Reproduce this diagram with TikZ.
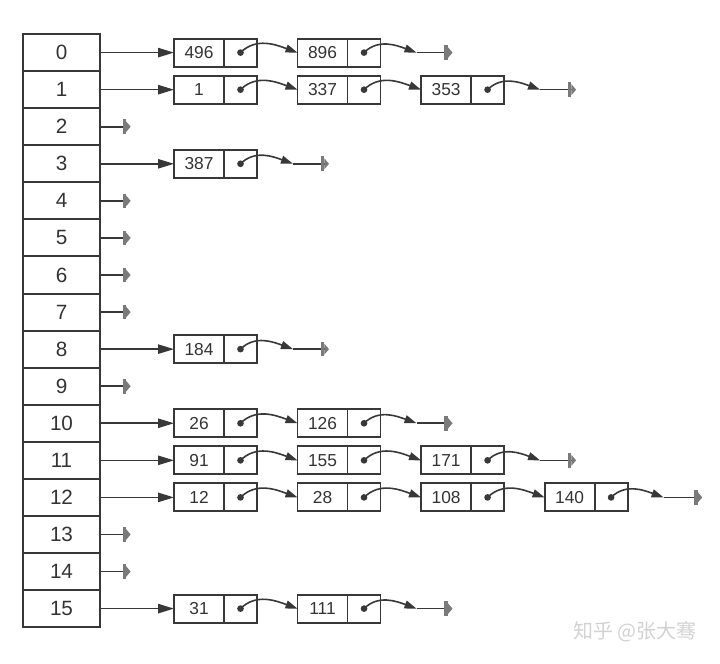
\documentclass[tikz,border=0pt]{standalone}
\usepackage{fontspec}
\setmainfont{Liberation Sans}
\newfontfamily\cjk{Noto Sans CJK SC}
\usetikzlibrary{positioning,arrows.meta}

\definecolor{linegray}{HTML}{383838}
\definecolor{textgray}{HTML}{333333}
\definecolor{nullgray}{HTML}{7A7A7A}
\definecolor{wmgray}{HTML}{D2D2D2}

\tikzset{
    cell/.style={draw=linegray, line width=1.5pt, minimum width=57.75pt, minimum height=27.8pt,
        inner sep=0pt, outer sep=0pt, text=textgray, font=\fontsize{15.5}{15.5}\selectfont},
    val/.style={draw=linegray, line width=1.4pt, minimum width=37.5pt, minimum height=21pt,
        inner sep=0pt, outer sep=0pt, text=textgray, font=\fontsize{13}{13}\selectfont},
    ptr/.style={draw=linegray, line width=1.4pt, minimum width=24.75pt, minimum height=21pt,
        inner sep=0pt, outer sep=0pt},
    head/.style={draw=linegray, line width=1.2pt, -{Triangle[length=12pt,width=7pt]}},
    link/.style={draw=linegray, line width=1.2pt, -{Triangle[length=9pt,width=6pt]}},
    nullend/.style={draw=linegray, line width=1.2pt,
        -{Bar[width=11pt,line width=2.6pt,color=nullgray]Triangle[length=3.5pt,width=8pt,color=nullgray]}},
}

\begin{document}
\begin{tikzpicture}[x=0.75pt, y=-0.75pt]
    \useasboundingbox (0,0) rectangle (720,663);

    % hash table
    \node[cell] (a0) at (61.5,52.6) {0};
    \node[cell, below=0pt of a0] (a1) {1};
    \node[cell, below=0pt of a1] (a2) {2};
    \node[cell, below=0pt of a2] (a3) {3};
    \node[cell, below=0pt of a3] (a4) {4};
    \node[cell, below=0pt of a4] (a5) {5};
    \node[cell, below=0pt of a5] (a6) {6};
    \node[cell, below=0pt of a6] (a7) {7};
    \node[cell, below=0pt of a7] (a8) {8};
    \node[cell, below=0pt of a8] (a9) {9};
    \node[cell, below=0pt of a9] (a10) {10};
    \node[cell, below=0pt of a10] (a11) {11};
    \node[cell, below=0pt of a11] (a12) {12};
    \node[cell, below=0pt of a12] (a13) {13};
    \node[cell, below=0pt of a13] (a14) {14};
    \node[cell, below=0pt of a14] (a15) {15};

    % row 0
    \node[val, right=55.5pt of a0] (v0a) {496};
    \node[ptr, right=0pt of v0a] (p0a) {};
    \node[val, right=30.4pt of p0a] (v0b) {896};
    \node[ptr, right=0pt of v0b] (p0b) {};
    \coordinate[right=27pt of p0b] (t0);
    \coordinate[right=27pt of t0] (g0);
    \draw[head] (a0) -- (v0a);
    \draw[link] (p0a.center) to[out=45,in=160] (v0b.west);
    \draw[link] (p0b.center) to[out=45,in=160] (t0);
    \draw[nullend] (t0) -- (g0);

    % row 1
    \node[val, right=55.5pt of a1] (v1a) {1};
    \node[ptr, right=0pt of v1a] (p1a) {};
    \node[val, right=30.4pt of p1a] (v1b) {337};
    \node[ptr, right=0pt of v1b] (p1b) {};
    \node[val, right=30.4pt of p1b] (v1c) {353};
    \node[ptr, right=0pt of v1c] (p1c) {};
    \coordinate[right=27pt of p1c] (t1);
    \coordinate[right=27pt of t1] (g1);
    \draw[head] (a1) -- (v1a);
    \draw[link] (p1a.center) to[out=45,in=160] (v1b.west);
    \draw[link] (p1b.center) to[out=45,in=160] (v1c.west);
    \draw[link] (p1c.center) to[out=45,in=160] (t1);
    \draw[nullend] (t1) -- (g1);

    % row 3
    \node[val, right=55.5pt of a3] (v3a) {387};
    \node[ptr, right=0pt of v3a] (p3a) {};
    \coordinate[right=27pt of p3a] (t3);
    \coordinate[right=27pt of t3] (g3);
    \draw[head] (a3) -- (v3a);
    \draw[link] (p3a.center) to[out=45,in=160] (t3);
    \draw[nullend] (t3) -- (g3);

    % row 8
    \node[val, right=55.5pt of a8] (v8a) {184};
    \node[ptr, right=0pt of v8a] (p8a) {};
    \coordinate[right=27pt of p8a] (t8);
    \coordinate[right=27pt of t8] (g8);
    \draw[head] (a8) -- (v8a);
    \draw[link] (p8a.center) to[out=45,in=160] (t8);
    \draw[nullend] (t8) -- (g8);

    % row 10
    \node[val, right=55.5pt of a10] (v10a) {26};
    \node[ptr, right=0pt of v10a] (p10a) {};
    \node[val, right=30.4pt of p10a] (v10b) {126};
    \node[ptr, right=0pt of v10b] (p10b) {};
    \coordinate[right=27pt of p10b] (t10);
    \coordinate[right=27pt of t10] (g10);
    \draw[head] (a10) -- (v10a);
    \draw[link] (p10a.center) to[out=45,in=160] (v10b.west);
    \draw[link] (p10b.center) to[out=45,in=160] (t10);
    \draw[nullend] (t10) -- (g10);

    % row 11
    \node[val, right=55.5pt of a11] (v11a) {91};
    \node[ptr, right=0pt of v11a] (p11a) {};
    \node[val, right=30.4pt of p11a] (v11b) {155};
    \node[ptr, right=0pt of v11b] (p11b) {};
    \node[val, right=30.4pt of p11b] (v11c) {171};
    \node[ptr, right=0pt of v11c] (p11c) {};
    \coordinate[right=27pt of p11c] (t11);
    \coordinate[right=27pt of t11] (g11);
    \draw[head] (a11) -- (v11a);
    \draw[link] (p11a.center) to[out=45,in=160] (v11b.west);
    \draw[link] (p11b.center) to[out=45,in=160] (v11c.west);
    \draw[link] (p11c.center) to[out=45,in=160] (t11);
    \draw[nullend] (t11) -- (g11);

    % row 12
    \node[val, right=55.5pt of a12] (v12a) {12};
    \node[ptr, right=0pt of v12a] (p12a) {};
    \node[val, right=30.4pt of p12a] (v12b) {28};
    \node[ptr, right=0pt of v12b] (p12b) {};
    \node[val, right=30.4pt of p12b] (v12c) {108};
    \node[ptr, right=0pt of v12c] (p12c) {};
    \node[val, right=30.4pt of p12c] (v12d) {140};
    \node[ptr, right=0pt of v12d] (p12d) {};
    \coordinate[right=27pt of p12d] (t12);
    \coordinate[right=29pt of t12] (g12);
    \draw[head] (a12) -- (v12a);
    \draw[link] (p12a.center) to[out=45,in=160] (v12b.west);
    \draw[link] (p12b.center) to[out=45,in=160] (v12c.west);
    \draw[link] (p12c.center) to[out=45,in=160] (v12d.west);
    \draw[link] (p12d.center) to[out=45,in=160] (t12);
    \draw[nullend] (t12) -- (g12);

    % row 15
    \node[val, right=55.5pt of a15] (v15a) {31};
    \node[ptr, right=0pt of v15a] (p15a) {};
    \node[val, right=30.4pt of p15a] (v15b) {111};
    \node[ptr, right=0pt of v15b] (p15b) {};
    \coordinate[right=27pt of p15b] (t15);
    \coordinate[right=27pt of t15] (g15);
    \draw[head] (a15) -- (v15a);
    \draw[link] (p15a.center) to[out=45,in=160] (v15b.west);
    \draw[link] (p15b.center) to[out=45,in=160] (t15);
    \draw[nullend] (t15) -- (g15);

    % pointer dots
    \fill[linegray] (p0a) circle (2.5pt) (p0b) circle (2.5pt);
    \fill[linegray] (p1a) circle (2.5pt) (p1b) circle (2.5pt) (p1c) circle (2.5pt);
    \fill[linegray] (p3a) circle (2.5pt) (p8a) circle (2.5pt);
    \fill[linegray] (p10a) circle (2.5pt) (p10b) circle (2.5pt);
    \fill[linegray] (p11a) circle (2.5pt) (p11b) circle (2.5pt) (p11c) circle (2.5pt);
    \fill[linegray] (p12a) circle (2.5pt) (p12b) circle (2.5pt) (p12c) circle (2.5pt) (p12d) circle (2.5pt);
    \fill[linegray] (p15a) circle (2.5pt) (p15b) circle (2.5pt);

    % empty buckets
    \coordinate[right=23pt of a2] (g2);
    \coordinate[right=23pt of a4] (g4);
    \coordinate[right=23pt of a5] (g5);
    \coordinate[right=23pt of a6] (g6);
    \coordinate[right=23pt of a7] (g7);
    \coordinate[right=23pt of a9] (g9);
    \coordinate[right=23pt of a13] (g13);
    \coordinate[right=23pt of a14] (g14);
    \draw[nullend] (a2) -- (g2);
    \draw[nullend] (a4) -- (g4);
    \draw[nullend] (a5) -- (g5);
    \draw[nullend] (a6) -- (g6);
    \draw[nullend] (a7) -- (g7);
    \draw[nullend] (a9) -- (g9);
    \draw[nullend] (a13) -- (g13);
    \draw[nullend] (a14) -- (g14);

    % watermark
    \node[text=wmgray, font=\cjk\fontsize{15}{15}\selectfont] (wm) at (635,632) {知乎 @张大骞};
\end{tikzpicture}
\end{document}
